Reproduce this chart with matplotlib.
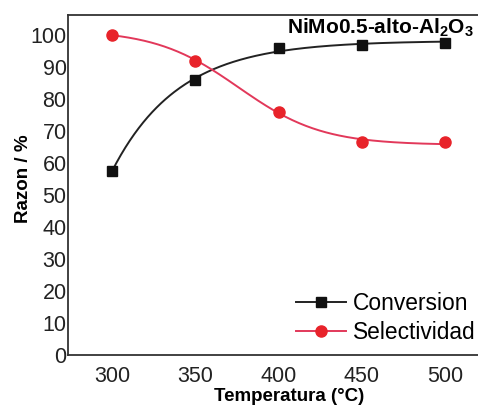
import numpy as np
import matplotlib
matplotlib.use("Agg")
import matplotlib.pyplot as plt
from matplotlib.lines import Line2D

plt.rcParams['font.family'] = ['Liberation Sans', 'DejaVu Sans']
plt.rcParams['mathtext.fontset'] = 'custom'
plt.rcParams['mathtext.rm'] = 'Liberation Sans'
plt.rcParams['mathtext.bf'] = 'Liberation Sans:bold'

# Data
temperature = np.array([300, 350, 400, 450, 500])
conversion = np.array([57.5, 86.0, 96.0, 97.0, 97.5])
selectividad = np.array([100.0, 92.0, 76.0, 66.5, 66.5])
x_ticks = [300, 350, 400, 450, 500]
y_ticks = list(range(0, 101, 10))
title = r"NiMo0.5-alto-Al$_\mathbf{2}$O$_\mathbf{3}$"

# Fits (least squares, grid search for nonlinear params)
def fit_exp(x, y):
    best = None
    for t in np.linspace(5, 300, 600):
        f = np.exp(-(x - x.min()) / t)
        M = np.column_stack([np.ones_like(f), f])
        c, *_ = np.linalg.lstsq(M, y, rcond=None)
        r = np.sum((M @ c - y) ** 2)
        if best is None or r < best[0]:
            best = (r, t, c)
    _, t, c = best
    return lambda xx: c[0] + c[1] * np.exp(-(xx - x.min()) / t)

def fit_boltz(x, y):
    best = None
    for x0 in np.linspace(320, 450, 131):
        for dx in np.linspace(5, 80, 151):
            f = 1.0 / (1.0 + np.exp((x - x0) / dx))
            M = np.column_stack([np.ones_like(f), f])
            c, *_ = np.linalg.lstsq(M, y, rcond=None)
            r = np.sum((M @ c - y) ** 2)
            if best is None or r < best[0]:
                best = (r, x0, dx, c)
    _, x0, dx, c = best
    return lambda xx: c[0] + c[1] / (1.0 + np.exp((xx - x0) / dx))

conv_fit = fit_exp(temperature.astype(float), conversion)
sel_fit = fit_boltz(temperature.astype(float), selectividad)
xs = np.linspace(300, 500, 300)

W, H = 478, 408
fig = plt.figure(figsize=(W / 100, H / 100), dpi=100)
ax = fig.add_axes([68 / W, (H - 355) / H, (510 - 68) / W, (355 - 15) / H])

black = '#111111'
red = '#e8232a'
redline = '#e2385a'

ax.plot(xs, conv_fit(xs), color='#222222', lw=1.4, zorder=2)
ax.plot(xs, sel_fit(xs), color=redline, lw=1.4, zorder=2)
ax.plot(temperature, conversion, ls='none', marker='s', ms=6.5, color=black, zorder=3)
ax.plot(temperature, selectividad, ls='none', marker='o', ms=8, color=red, zorder=3)

ax.set_xlim(273.6, 273.6 + (510 - 68) / (83.33 / 50))
ax.set_ylim(0, 106.25)
ax.set_xticks(x_ticks)
ax.set_yticks(y_ticks)
ax.tick_params(axis='both', length=0, labelsize=15.5, colors='#222222')
ax.tick_params(axis='y', pad=1)
ax.tick_params(axis='x', pad=8)
for s in ax.spines.values():
    s.set_linewidth(1.3)
    s.set_color('#333333')

ax.set_xlabel('Temperatura (°C)', fontsize=13.5, fontweight='bold')
ax.xaxis.set_label_coords(289 / W, 1 - 388 / H, transform=fig.transFigure)
ax.set_ylabel('Razon / %', fontsize=13.5, fontweight='bold')
ax.yaxis.set_label_coords(32 / W, 1 - 179 / H, transform=fig.transFigure)

fig.text(287 / W, 1 - 33 / H, title, fontsize=15, fontweight='bold', va='baseline', ha='left')

handles = [
    Line2D([], [], color='#222222', lw=1.4, marker='s', ms=6.5, mfc=black, mec=black),
    Line2D([], [], color=redline, lw=1.4, marker='o', ms=8, mfc=red, mec=red),
]
fig.legend(handles, ['Conversion', 'Selectividad'], loc='center left',
           bbox_to_anchor=(296 / W, 1 - 318 / H), frameon=False,
           fontsize=16.4, handlelength=2.2, handletextpad=0.3,
           labelspacing=0.25, borderpad=0, borderaxespad=0)

fig.savefig('out.png', dpi=100)
